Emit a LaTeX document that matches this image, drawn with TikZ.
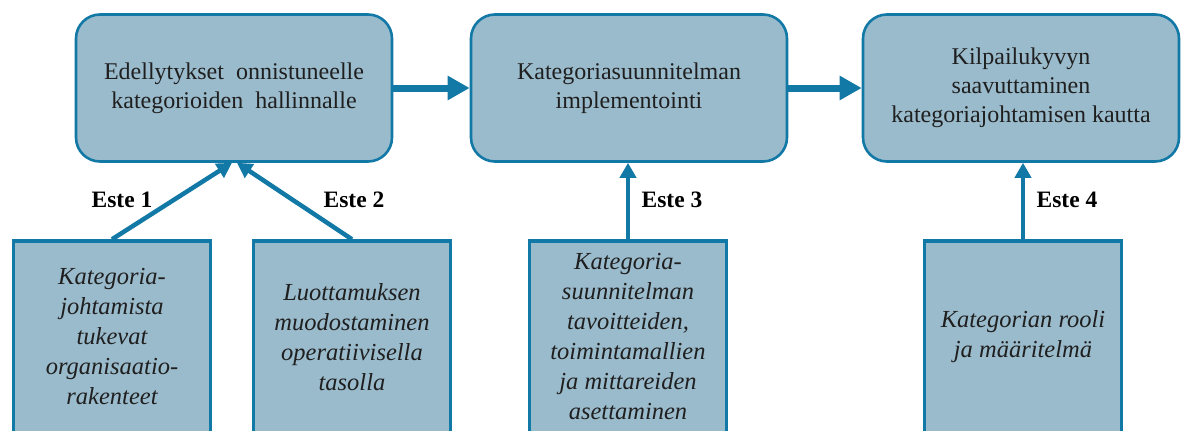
\documentclass[tikz,border=0pt]{standalone}
\usepackage{fontspec}
\setmainfont{Liberation Serif}
\usetikzlibrary{arrows.meta}
\definecolor{boxfill}{RGB}{154,187,204}
\definecolor{boxline}{RGB}{18,120,165}
\newcommand{\lowtext}[1]{\raisebox{-3pt}{\begin{tabular}{@{}c@{}}#1\end{tabular}}}
\tikzset{
  topbox/.style={draw=boxline, fill=boxfill, line width=2.6pt, rounded corners=24pt,
    minimum width=316pt, minimum height=147pt, inner sep=0pt,
    font=\fontsize{24}{29}\selectfont, text=black!88},
  botbox/.style={draw=boxline, fill=boxfill, line width=3.4pt,
    minimum width=197pt, minimum height=192pt, inner sep=0pt,
    font=\fontsize{24.5}{30}\selectfont\itshape, text=black!88, align=center},
  bigarrow/.style={draw=boxline, line width=7pt, -{Triangle[length=22pt,width=23pt]}},
  smallarrow/.style={draw=boxline, line width=4.5pt, -{Triangle[length=15pt,width=16pt]}},
  estelabel/.style={font=\fontsize{23.5}{28}\selectfont\bfseries, text=black}
}
\begin{document}
\begin{tikzpicture}[x=1pt,y=-1pt]
\useasboundingbox (0,0) rectangle (1181,431);
\node[topbox] (t1) at (234,88) {\lowtext{Edellytykset\ \ onnistuneelle\\kategorioiden\ \ hallinnalle}};
\node[topbox] (t2) at (629,88) {\lowtext{Kategoriasuunnitelman\\implementointi}};
\node[topbox] (t3) at (1021,88) {\lowtext{Kilpailukyvyn\\saavuttaminen\\kategoriajohtamisen kautta}};
\node[botbox] (b1) at (112,337) {Kategoria-\\johtamista\\tukevat\\organisaatio-\\rakenteet};
\node[botbox] (b2) at (352,337) {Luottamuksen\\muodostaminen\\operatiivisella\\tasolla};
\node[botbox] (b3) at (628,337) {Kategoria-\\suunnitelman\\tavoitteiden,\\toimintamallien\\ja mittareiden\\asettaminen};
\node[botbox] (b4) at (1023,337) {Kategorian rooli\\ja määritelmä};
\draw[bigarrow] (t1.east) -- (t2.west);
\draw[bigarrow] (t2.east) -- (t3.west);
\coordinate (t1l) at ([xshift=-2pt]t1.south);
\coordinate (t1r) at ([xshift=3pt]t1.south);
\draw[smallarrow] (b1.north) -- (t1l);
\draw[smallarrow] (b2.north) -- (t1r);
\draw[smallarrow] (b3.north) -- (b3.north |- t2.south);
\draw[smallarrow] (b4.north) -- (b4.north |- t3.south);
\node[estelabel] (e1) at (122,200) {Este 1};
\node[estelabel] (e2) at (354,200) {Este 2};
\node[estelabel] (e3) at (672,200) {Este 3};
\node[estelabel] (e4) at (1067,200) {Este 4};
\end{tikzpicture}
\end{document}
